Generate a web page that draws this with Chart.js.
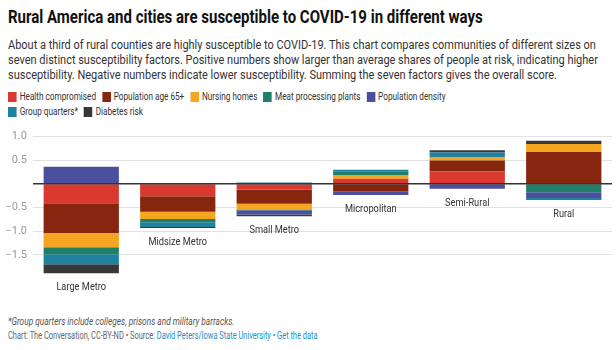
<!DOCTYPE html>
<html>
<head>
<meta charset="utf-8">
<script src="https://cdn.jsdelivr.net/npm/chart.js@4"></script>
<style>
  body { margin: 0; background: #fff; font-family: Roboto, "Noto Sans", sans-serif; color: #222; width: 616px; height: 350px; overflow: hidden; position: relative; }
  #titulo { position: absolute; left: 8px; top: 5px; font-size: 19px; font-weight: 700; color: #111; white-space: nowrap; transform-origin: left top; transform: scaleX(0.79); }
  #sub { position: absolute; left: 8px; top: 38px; font-size: 12px; line-height: 14.8px; color: #333; white-space: nowrap; transform-origin: left top; transform: scaleX(0.915); }
  #leyenda { position: absolute; left: 8px; top: 89px; font-size: 10.5px; color: #333; white-space: nowrap; transform-origin: left top; transform: scaleX(0.78); }
  .fila { height: 15px; display: flex; align-items: center; }
  .item { display: inline-flex; align-items: center; margin-right: 7.7px; }
  .caja { width: 11px; height: 10px; margin-right: 4px; }
  #zona { position: absolute; left: 0; top: 120px; width: 616px; height: 185px; }
  #nota { position: absolute; left: 8px; top: 316px; font-size: 10px; font-style: italic; color: #555; white-space: nowrap; transform-origin: left top; transform: scaleX(0.83); }
  #fuente { position: absolute; left: 8px; top: 330px; font-size: 10px; color: #666; white-space: nowrap; transform-origin: left top; transform: scaleX(0.745); }
  #fuente a { color: #1a8fc9; text-decoration: none; }
</style>
</head>
<body>
<div id="titulo">Rural America and cities are susceptible to COVID-19 in different ways</div>
<div id="sub">About a third of rural counties are highly susceptible to COVID-19. This chart compares communities of different sizes on<br>seven distinct susceptibility factors. Positive numbers show larger than average shares of people at risk, indicating higher<br>susceptibility. Negative numbers indicate lower susceptibility. Summing the seven factors gives the overall score.</div>
<div id="leyenda"><div class="fila" id="fila1"></div><div class="fila" id="fila2"></div></div>
<div id="zona"><canvas id="misBarras"></canvas></div>
<div id="nota">*Group quarters include colleges, prisons and military barracks.</div>
<div id="fuente">Chart: The Conversation, CC-BY-ND • Source: <a>David Peters/Iowa State University</a> <a>• Get the data</a></div>
<script>
// categorias y valores
const categorias = ['Large Metro', 'Midsize Metro', 'Small Metro', 'Micropolitan', 'Semi-Rural', 'Rural'];
const salud     = [-0.41, -0.26, -0.12, 0.11, 0.26, 0];
const edad65    = [-0.63, -0.33, -0.30, -0.155, 0.235, 0.675];
const residencias = [-0.30, -0.155, -0.12, 0.065, 0.065, 0.17];
const carnicas  = [-0.15, -0.065, -0.02, 0.09, 0, -0.175];
const densidad  = [0.36, 0, -0.085, -0.08, -0.105, -0.125];
const grupo     = [-0.21, -0.10, 0.03, 0.035, 0.105, -0.04];
const diabetes  = [-0.19, -0.02, -0.04, 0, 0.045, 0.065];
const ticksY = [-1.5, -1, -0.5, 0, 0.5, 1];

const series = [
  { label: 'Health compromised', data: salud, color: '#d9392e' },
  { label: 'Population age 65+', data: edad65, color: '#86260f' },
  { label: 'Nursing homes', data: residencias, color: '#f4a623' },
  { label: 'Meat processing plants', data: carnicas, color: '#1f7f68' },
  { label: 'Population density', data: densidad, color: '#4a4f9e' },
  { label: 'Group quarters*', data: grupo, color: '#1e82a0' },
  { label: 'Diabetes risk', data: diabetes, color: '#383838' }
];

// leyenda, 5 en la primera fila y 2 en la segunda
series.forEach((s, i) => {
  const it = document.createElement('span');
  it.className = 'item';
  it.innerHTML = '<span class="caja" style="background:' + s.color + '"></span>' + s.label;
  document.getElementById(i < 5 ? 'fila1' : 'fila2').appendChild(it);
});

// etiquetas debajo de cada barra + linea del cero encima
const etiquetas = {
  id: 'etiquetas',
  afterDatasetsDraw(chart) {
    const ctx = chart.ctx;
    const y = chart.scales.y;
    const area = chart.chartArea;
    ctx.save();
    ctx.strokeStyle = '#333';
    ctx.lineWidth = 1.5;
    ctx.beginPath();
    ctx.moveTo(area.left, y.getPixelForValue(0));
    ctx.lineTo(area.right, y.getPixelForValue(0));
    ctx.stroke();
    ctx.font = '11px Roboto';
    ctx.fillStyle = '#333';
    ctx.textAlign = 'center';
    ctx.textBaseline = 'middle';
    categorias.forEach((c, i) => {
      let neg = 0;
      series.forEach(s => { if (s.data[i] < 0) neg += s.data[i]; });
      const x = chart.getDatasetMeta(0).data[i].x;
      ctx.save();
      ctx.translate(x, y.getPixelForValue(neg) + 14);
      ctx.scale(0.84, 1);
      ctx.fillText(c, 0, 0);
      ctx.restore();
    });
    ctx.restore();
  }
};

const cnv = document.getElementById('misBarras');
new Chart(cnv, {
  type: 'bar',
  data: {
    labels: categorias,
    datasets: series.map(s => ({
      label: s.label,
      data: s.data,
      backgroundColor: s.color,
      borderWidth: 0,
      categoryPercentage: 1,
      barPercentage: 0.78
    }))
  },
  options: {
    responsive: true,
    maintainAspectRatio: false,
    animation: false,
    layout: { padding: { right: 4, top: 0, bottom: 0 } },
    plugins: { legend: { display: false }, tooltip: { enabled: false } },
    scales: {
      x: { stacked: true, display: false },
      y: {
        stacked: true,
        min: -2.56,
        max: 1.35,
        afterFit: s => { s.width = 33; s.paddingTop = 0; s.paddingBottom = 0; },
        afterBuildTicks: s => { s.ticks = ticksY.map(v => ({ value: v })); },
        border: { display: false },
        grid: { color: '#e2e2e2', drawTicks: false },
        ticks: {
          padding: 6,
          color: '#999',
          font: { family: 'Roboto', size: 11 },
          callback: v => v === 0 ? '' : v.toFixed(1).replace('-', '\u2212')
        }
      }
    }
  },
  plugins: [etiquetas]
});
</script>
</body>
</html>
